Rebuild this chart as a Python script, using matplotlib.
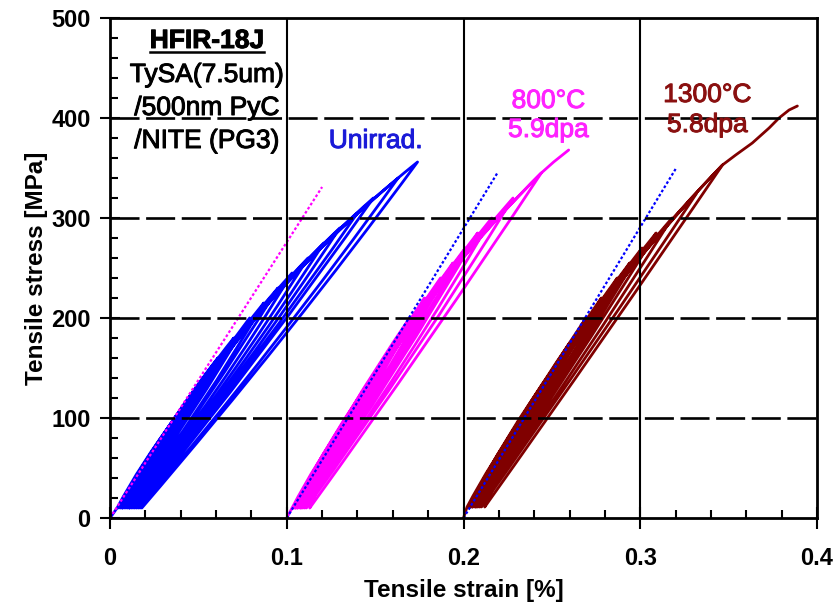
import numpy as np
import matplotlib
matplotlib.use('Agg')
import matplotlib.pyplot as plt
import matplotlib.patheffects as pe
from matplotlib.path import Path
from matplotlib.patches import PathPatch
from matplotlib.lines import Line2D

plt.rcParams['font.family'] = ['Liberation Sans', 'DejaVu Sans']

# strain [%] is shifted by these amounts for each specimen in the figure
strain_offset = [0.0, 0.1, 0.2]

# --- Unirradiated: cyclic loops (strain %, stress MPa) ---
unirr_peak_stress = [100, 120, 140, 160, 180, 200, 215, 230, 245, 260, 275, 290, 305, 320, 340, 356]
unirr_peak_strain = [0.037, 0.045, 0.053, 0.061, 0.070, 0.079, 0.087, 0.095, 0.103, 0.112,
                     0.121, 0.130, 0.140, 0.149, 0.163, 0.174]
unirr_start_strain = [0.004, 0.005, 0.006, 0.007, 0.007, 0.008, 0.009, 0.010, 0.011, 0.011,
                      0.012, 0.013, 0.014, 0.015, 0.016, 0.017, 0.018]
unirr_load_mid = [0.019, 0.023, 0.027, 0.031, 0.035, 0.041, 0.044, 0.047, 0.050, 0.053,
                  0.056, 0.059, 0.063, 0.066, 0.071, 0.074]
unirr_unload_mid = [0.022, 0.027, 0.032, 0.037, 0.041, 0.046, 0.051, 0.055, 0.060, 0.065,
                    0.070, 0.075, 0.080, 0.085, 0.093, 0.099]
unirr_valley = 10
unirr_final_mid = None
unirr_tail_strain = []
unirr_tail_stress = []

# --- 800C / 5.9dpa ---
t800_peak_stress = [100, 125, 150, 175, 200, 220, 240, 255, 270, 285, 300, 320, 345]
t800_peak_strain = [0.0346, 0.043, 0.052, 0.061, 0.0695, 0.078, 0.087, 0.094, 0.101, 0.108,
                    0.116, 0.128, 0.144]
t800_start_strain = [0.003, 0.004, 0.004, 0.005, 0.005, 0.006, 0.006, 0.007, 0.008, 0.008,
                     0.009, 0.010, 0.011, 0.013]
t800_load_mid = [0.0175, 0.022, 0.026, 0.031, 0.035, 0.040, 0.044, 0.047, 0.050, 0.053,
                 0.056, 0.060, 0.063]
t800_unload_mid = [0.020, 0.025, 0.030, 0.035, 0.039, 0.044, 0.049, 0.053, 0.057, 0.061,
                   0.066, 0.072, 0.080]
t800_valley = 10
t800_final_mid = 0.064
t800_tail_strain = [0.144, 0.151, 0.1595]
t800_tail_stress = [345, 356, 368]

# --- 1300C / 5.8dpa ---
t1300_peak_stress = [100, 125, 150, 175, 200, 220, 240, 255, 270, 285, 300, 325, 353]
t1300_peak_strain = [0.0335, 0.042, 0.051, 0.060, 0.0693, 0.078, 0.087, 0.094, 0.101, 0.109,
                     0.118, 0.132, 0.1465]
t1300_start_strain = [0.002, 0.003, 0.003, 0.004, 0.004, 0.005, 0.005, 0.006, 0.007, 0.007,
                      0.008, 0.009, 0.010, 0.012]
t1300_load_mid = [0.0165, 0.021, 0.025, 0.030, 0.035, 0.039, 0.043, 0.046, 0.049, 0.052,
                  0.055, 0.060, 0.066]
t1300_unload_mid = [0.019, 0.024, 0.029, 0.034, 0.038, 0.043, 0.048, 0.052, 0.056, 0.060,
                    0.065, 0.072, 0.080]
t1300_valley = 11
t1300_final_mid = 0.066
t1300_tail_strain = [0.1465, 0.154, 0.1634, 0.1729, 0.1785, 0.1842, 0.1889]
t1300_tail_stress = [353, 363, 375, 390, 400, 408, 412]

# dotted reference lines (start at each offset origin)
ref_offset = [0.0, 0.1, 0.2]
ref_end_strain = [0.120, 0.1195, 0.120]
ref_end_stress = [331, 346, 349]
ref_colors = ['#ff00ff', '#0000ff', '#0000ff']


def curve(verts, codes, p0, mid, p2):
    # quadratic bezier that passes through mid
    cx = 2 * mid[0] - 0.5 * (p0[0] + p2[0])
    cy = 2 * mid[1] - 0.5 * (p0[1] + p2[1])
    verts += [(cx, cy), p2]
    codes += [Path.CURVE3, Path.CURVE3]


def loops_path(off, peak_s, peak_e, start_e, load_mid, unload_mid, valley,
               final_mid, tail_e, tail_s):
    verts = [(off, 0), (off + start_e[0], valley)]
    codes = [Path.MOVETO, Path.LINETO]
    for i in range(len(peak_s)):
        p0 = (off + start_e[i], valley)
        pk = (off + peak_e[i], peak_s[i])
        midy = 0.5 * (valley + peak_s[i])
        curve(verts, codes, p0, (off + load_mid[i], midy), pk)
        curve(verts, codes, pk, (off + unload_mid[i], midy), (off + start_e[i + 1], valley))
    if tail_e:
        p0 = (off + start_e[-1], valley)
        pk = (off + tail_e[0], tail_s[0])
        curve(verts, codes, p0, (off + final_mid, 0.5 * (valley + tail_s[0])), pk)
        for e, s in zip(tail_e[1:], tail_s[1:]):
            verts.append((off + e, s))
            codes.append(Path.LINETO)
    return Path(verts, codes)


fig = plt.figure(figsize=(8.34, 6.06), dpi=100)
ax = fig.add_axes([110 / 834, 88 / 606, 707 / 834, 500 / 606])
ax.set_xlim(0, 0.4)
ax.set_ylim(0, 500)

series = [
    (unirr_peak_stress, unirr_peak_strain, unirr_start_strain, unirr_load_mid,
     unirr_unload_mid, unirr_valley, unirr_final_mid, unirr_tail_strain, unirr_tail_stress, '#0000ff'),
    (t800_peak_stress, t800_peak_strain, t800_start_strain, t800_load_mid,
     t800_unload_mid, t800_valley, t800_final_mid, t800_tail_strain, t800_tail_stress, '#ff00ff'),
    (t1300_peak_stress, t1300_peak_strain, t1300_start_strain, t1300_load_mid,
     t1300_unload_mid, t1300_valley, t1300_final_mid, t1300_tail_strain, t1300_tail_stress, '#800000'),
]
for off, s in zip(strain_offset, series):
    p = loops_path(off, *s[:9])
    ax.add_patch(PathPatch(p, fill=False, edgecolor=s[9], lw=2.0,
                           joinstyle='round', capstyle='round', zorder=3))

for off, e, s, c in zip(ref_offset, ref_end_strain, ref_end_stress, ref_colors):
    ax.plot([off, off + e], [0, s], color=c, lw=1.6, linestyle=(0, (1.2, 1.0)), zorder=4)

# grid drawn on top like the original
for x in [0.1, 0.2, 0.3]:
    ax.axvline(x, color='black', lw=1.5, zorder=5)
for y in [100, 200, 300, 400]:
    ax.axhline(y, color='black', lw=1.9, dashes=(11, 2.5), zorder=5)

ax.set_xticks([0, 0.1, 0.2, 0.3, 0.4])
ax.set_xticklabels(['0', '0.1', '0.2', '0.3', '0.4'])
ax.set_xticks(np.arange(0.02, 0.4, 0.02), minor=True)
ax.set_yticks([0, 100, 200, 300, 400, 500])
ax.set_yticks(np.arange(20, 500, 20), minor=True)
ax.tick_params(axis='x', which='major', direction='inout', length=16, width=1.5,
               labelsize=17, pad=13)
ax.tick_params(axis='y', which='major', direction='inout', length=14, width=1.5,
               labelsize=17, pad=7)
ax.tick_params(which='minor', direction='in', length=6, width=1.5)
for lab in ax.get_xticklabels() + ax.get_yticklabels():
    lab.set_fontweight('bold')
for sp in ax.spines.values():
    sp.set_linewidth(2)
    sp.set_zorder(6)

ax.set_xlabel('Tensile strain [%]', fontsize=17.5, fontweight='bold', labelpad=6)
ax.set_ylabel('Tensile stress [MPa]', fontsize=17.5, fontweight='bold', labelpad=2)


def label(x, y, txt, color='black', weight='normal'):
    t = ax.text(x, y, txt, fontsize=19, color=color, fontweight=weight,
                ha='center', va='baseline', zorder=7)
    t.set_path_effects([pe.withStroke(linewidth=0.7, foreground=color)])
    return t


title = label(0.0548, 470, 'HFIR-18J', weight='bold')
label(0.0548, 436, 'TySA(7.5um)')
label(0.0548, 403, '/500nm PyC')
label(0.0548, 370, '/NITE (PG3)')
label(0.1503, 370, 'Unirrad.', color='#1a1ad8')
label(0.248, 410, '800\u00b0C', color='#ff22ff')
label(0.248, 381, '5.9dpa', color='#ff22ff')
label(0.3379, 416, '1300\u00b0C', color='#8a1010')
label(0.3379, 386, '5.8dpa', color='#8a1010')

# underline the specimen id
fig.canvas.draw()
bb = title.get_window_extent()
base_y = ax.transData.transform((0.0548, 470))[1] - 4
fig.add_artist(Line2D([bb.x0, bb.x1], [base_y, base_y], transform=None,
                      color='black', lw=1.8))

fig.savefig('out.png', dpi=100)
